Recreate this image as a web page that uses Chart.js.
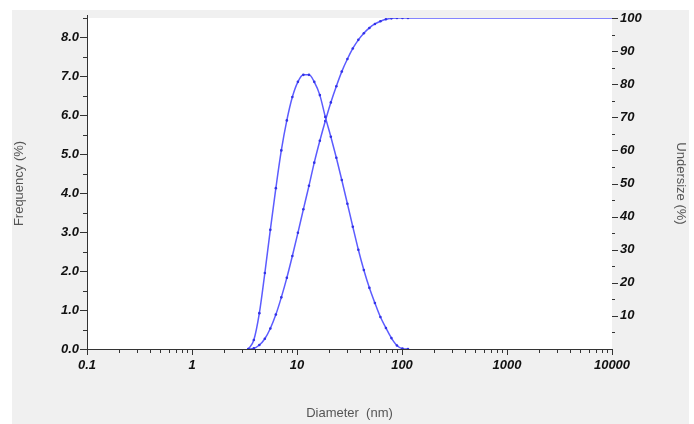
<!DOCTYPE html>
<html>
<head>
<meta charset="utf-8">
<script src="https://cdn.jsdelivr.net/npm/chart.js@4"></script>
<style>
  body { margin: 0; background: #fff; }
  canvas { display: block; }
</style>
</head>
<body>
<canvas id="psd" width="694" height="424"></canvas>
<script>
// 粒径分布数据
const diameters = [3.44, 3.88, 4.38, 4.94, 5.57, 6.29, 7.09, 8.00, 9.03, 10.2,
  11.5, 13.0, 14.6, 16.5, 18.6, 21.0, 23.7, 26.7, 30.2, 34.0,
  38.4, 43.3, 48.9, 55.2, 62.3, 70.3, 79.3, 89.5, 101, 114];
const frequency = [0, 0.23, 0.92, 1.95, 3.06, 4.13, 5.10, 5.87, 6.47, 6.86,
  7.04, 7.04, 6.86, 6.52, 5.96, 5.45, 4.91, 4.34, 3.73, 3.14,
  2.55, 2.03, 1.57, 1.18, 0.82, 0.54, 0.28, 0.09, 0.01, 0];
const undersize = [0, 0.2, 1.2, 3.1, 6.2, 10.4, 15.6, 21.5, 28.1, 35.1,
  42.2, 49.3, 56.3, 62.9, 68.9, 74.5, 79.4, 83.8, 87.6, 90.8,
  93.4, 95.4, 97.0, 98.2, 99.0, 99.6, 99.9, 100, 100, 100];
// 平台段延伸到坐标轴末端
const undersizeTailX = [10000];
const undersizeTailY = [100];

const decades = [0.1, 1, 10, 100, 1000];
const xMax = 10000;

const blue = 'rgb(92,92,255)';
const dotBlue = 'rgb(50,50,230)';
const labelFont = { family: 'Liberation Sans, Arial, sans-serif', size: 13, weight: 'bold', style: 'italic' };
const titleFont = { family: 'Liberation Sans, Arial, sans-serif', size: 13 };

function isDecade(v) {
  const l = Math.log10(v);
  return Math.abs(l - Math.round(l)) < 1e-9;
}

const freqPoints = diameters.map((d, i) => ({ x: d, y: frequency[i] }));
const underPoints = diameters.map((d, i) => ({ x: d, y: undersize[i] }))
  .concat(undersizeTailX.map((d, i) => ({ x: d, y: undersizeTailY[i] })));

// 背景与刻度线
const frame = {
  id: 'frame',
  beforeDraw(chart) {
    const c = chart.ctx, a = chart.chartArea;
    c.save();
    c.fillStyle = '#f0f0f0';
    c.fillRect(12, 10, 677, 414);
    c.fillStyle = '#fff';
    c.fillRect(a.left, a.top, a.right - a.left, a.bottom - a.top);
    c.restore();
  },
  afterDraw(chart) {
    const c = chart.ctx, a = chart.chartArea;
    const sx = chart.scales.x, sy = chart.scales.y, sy2 = chart.scales.y2;
    c.save();
    c.strokeStyle = '#333';
    c.lineWidth = 1;
    c.beginPath();
    c.moveTo(a.left + 0.5, a.top - 3);
    c.lineTo(a.left + 0.5, a.bottom + 0.5);
    c.lineTo(a.right + 0.5, a.bottom + 0.5);
    sy.ticks.forEach(t => {
      const p = Math.round(sy.getPixelForValue(t.value)) + 0.5;
      const len = t.value % 1 === 0 ? 7 : 4;
      c.moveTo(a.left - len, p); c.lineTo(a.left, p);
    });
    sy2.ticks.forEach(t => {
      if (t.value === 0) return;
      const p = Math.round(sy2.getPixelForValue(t.value)) + 0.5;
      const len = t.value % 10 === 0 ? 6 : 3;
      c.moveTo(a.right, p); c.lineTo(a.right + len, p);
    });
    sx.ticks.forEach(t => {
      const p = Math.round(sx.getPixelForValue(t.value)) + 0.5;
      const len = isDecade(t.value) ? 6 : 4;
      c.moveTo(p, a.bottom); c.lineTo(p, a.bottom + len);
    });
    c.stroke();
    c.restore();
  }
};

const hiddenGrid = { drawOnChartArea: false, color: 'rgba(0,0,0,0)', tickColor: 'rgba(0,0,0,0)' };

new Chart(document.getElementById('psd'), {
  type: 'scatter',
  data: {
    datasets: [
      {
        label: 'Frequency',
        data: freqPoints,
        yAxisID: 'y',
        showLine: true,
        borderColor: blue,
        borderWidth: 1.5,
        backgroundColor: dotBlue,
        pointBorderWidth: 0,
        pointRadius: 1.3,
        cubicInterpolationMode: 'monotone'
      },
      {
        label: 'Undersize',
        data: underPoints,
        yAxisID: 'y2',
        showLine: true,
        borderColor: blue,
        borderWidth: 1.5,
        backgroundColor: dotBlue,
        pointBorderWidth: 0,
        pointRadius: ctx => ctx.raw && ctx.raw.x > 1000 ? 0 : 1.3,
        cubicInterpolationMode: 'monotone'
      }
    ]
  },
  options: {
    responsive: false,
    animation: false,
    layout: { padding: { top: 18, left: 0, right: 0, bottom: 0 } },
    plugins: { legend: { display: false }, tooltip: { enabled: false } },
    scales: {
      x: {
        type: 'logarithmic',
        position: 'bottom',
        min: 0.1,
        max: xMax,
        afterBuildTicks(scale) {
          const ticks = [];
          decades.forEach(d => {
            for (let k = 1; k <= 9; k++) ticks.push({ value: d * k });
          });
          ticks.push({ value: xMax });
          scale.ticks = ticks;
        },
        afterFit(scale) { scale.height = 75; },
        grid: Object.assign({ tickLength: 6 }, hiddenGrid),
        border: { display: false },
        ticks: {
          autoSkip: false,
          maxRotation: 0,
          padding: 3,
          color: '#111',
          font: labelFont,
          callback: v => isDecade(v) ? String(v) : ''
        },
        title: {
          display: true,
          text: 'Diameter  (nm)',
          color: '#555',
          font: titleFont,
          padding: { top: 0, bottom: 3 }
        }
      },
      y: {
        position: 'left',
        min: 0,
        max: 8.5,
        afterFit(scale) { scale.width = 87; },
        grid: Object.assign({ tickLength: 7 }, hiddenGrid),
        border: { display: false },
        ticks: {
          stepSize: 0.5,
          autoSkip: false,
          padding: 1,
          color: '#111',
          font: labelFont,
          callback: v => v % 1 === 0 ? v.toFixed(1) : ''
        },
        title: {
          display: true,
          text: 'Frequency (%)',
          color: '#555',
          font: titleFont,
          padding: { top: 12, bottom: 0 }
        }
      },
      y2: {
        position: 'right',
        min: 0,
        max: 100,
        afterFit(scale) { scale.width = 82; },
        grid: Object.assign({ tickLength: 6 }, hiddenGrid),
        border: { display: false },
        ticks: {
          stepSize: 5,
          autoSkip: false,
          padding: 2,
          color: '#111',
          font: labelFont,
          callback: v => (v % 10 === 0 && v > 0) ? String(v) : ''
        },
        title: {
          display: true,
          text: 'Undersize (%)',
          color: '#555',
          font: titleFont,
          padding: { top: 6, bottom: 0 }
        }
      }
    }
  },
  plugins: [frame]
});
</script>
</body>
</html>
